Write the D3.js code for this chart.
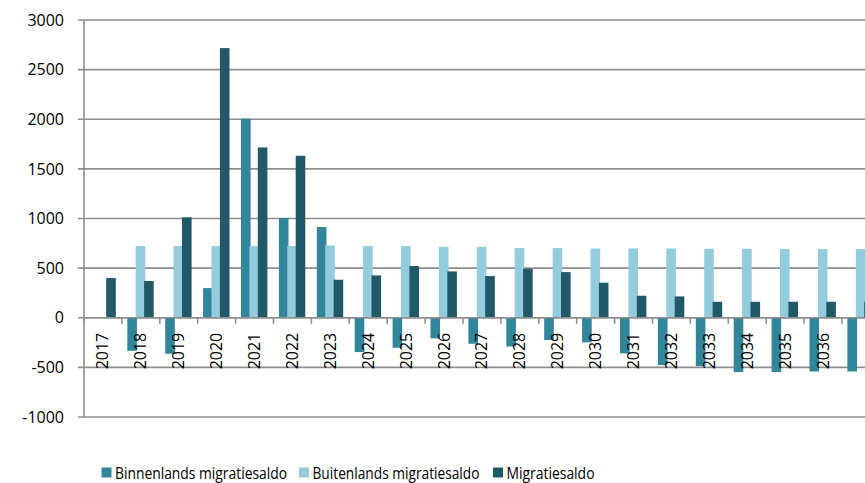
<!DOCTYPE html>
<html>
<head>
<meta charset="utf-8">
<script src="https://cdn.jsdelivr.net/npm/d3@7"></script>
<style>
  body { margin: 0; background: #fff; }
  text { font-family: "Open Sans", "Noto Sans", sans-serif; fill: #000; }
</style>
</head>
<body>
<div id="chart"></div>
<script>
// data
var years = ["2017","2018","2019","2020","2021","2022","2023","2024","2025","2026","2027",
             "2028","2029","2030","2031","2032","2033","2034","2035","2036","2037"];
var binnenlands = [0, -333, -363, 299, 2005, 1005, 914, -346, -302, -208, -262,
                   -289, -225, -248, -359, -477, -487, -547, -547, -541, -541];
var buitenlands = [0, 722, 722, 722, 722, 722, 729, 722, 722, 715, 715,
                   702, 702, 698, 698, 698, 695, 695, 692, 692, 692];
var migratiesaldo = [400, 370, 1012, 2717, 1716, 1632, 383, 427, 521, 467, 420,
                     494, 460, 353, 222, 215, 161, 161, 161, 161, 161];
var yTicks = [-1000, -500, 0, 500, 1000, 1500, 2000, 2500, 3000];
var seriesNames = ["Binnenlands migratiesaldo", "Buitenlands migratiesaldo", "Migratiesaldo"];
var colors = ["#31869b", "#93cddd", "#215968"];

var width = 865, height = 483;
var left = 84, catW = 37.9;

var svg = d3.select("#chart").append("svg")
    .attr("width", width)
    .attr("height", height);

var x = d3.scaleBand()
    .domain(years)
    .range([left, left + years.length * catW])
    .padding(0);

var y = d3.scaleLinear()
    .domain([-1000, 3000])
    .range([417, 20]);

// gridlines
svg.append("g")
    .selectAll("line")
    .data(yTicks)
    .enter()
    .append("line")
    .attr("x1", left - 6)
    .attr("x2", width)
    .attr("y1", d => y(d))
    .attr("y2", d => y(d))
    .style("stroke", "#8e8e8e")
    .style("stroke-width", 1.6);

// y axis (plain hyphen for negatives, no thousands separator)
var yAxis = svg.append("g")
    .attr("transform", "translate(" + left + ",0)")
    .call(d3.axisLeft(y).tickValues(yTicks).tickFormat(d => String(d)).tickSize(0).tickPadding(20));
yAxis.select(".domain").remove();
yAxis.selectAll("text").style("font-size", "16px").attr("fill", "#000");

svg.append("line")
    .attr("x1", left).attr("x2", left)
    .attr("y1", y(3000)).attr("y2", y(-1000))
    .style("stroke", "#8e8e8e")
    .style("stroke-width", 1.6);

// bars
var series = [binnenlands, buitenlands, migratiesaldo];
var barW = 9.6, barStep = 8.4, barOff = 5.4;

series.forEach(function (vals, i) {
    svg.append("g")
        .selectAll("rect")
        .data(years.map((yr, j) => ({ year: yr, value: vals[j] })))
        .enter()
        .append("rect")
        .attr("x", d => x(d.year) + barOff + i * barStep)
        .attr("width", barW)
        .attr("y", d => y(Math.max(0, d.value)))
        .attr("height", d => Math.abs(y(d.value) - y(0)))
        .style("fill", colors[i]);
});

// x axis line at zero, ticks at category borders
svg.append("line")
    .attr("x1", left).attr("x2", width)
    .attr("y1", y(0)).attr("y2", y(0))
    .style("stroke", "#8e8e8e")
    .style("stroke-width", 1.6);

svg.append("g")
    .selectAll("line")
    .data(years)
    .enter()
    .append("line")
    .attr("x1", d => x(d)).attr("x2", d => x(d))
    .attr("y1", y(0)).attr("y2", y(0) + 6)
    .style("stroke", "#8e8e8e")
    .style("stroke-width", 1.6);

// year labels (the last one falls outside the picture, as in the original)
svg.append("g")
    .selectAll("text")
    .data(years.filter(d => x(d) + x.bandwidth() / 2 + 8 < width))
    .enter()
    .append("text")
    .attr("transform", d => "translate(" + (x(d) + x.bandwidth() / 2 + 5.5) + "," + (y(0) + 15) + ") rotate(-90)")
    .attr("text-anchor", "end")
    .style("font-size", "16px")
    .text(d => d);

// legend
var legendX = [101.5, 299, 493];
var legendW = [172, 167, 88];
var legend = svg.append("g");
seriesNames.forEach(function (name, i) {
    legend.append("rect")
        .attr("x", legendX[i])
        .attr("y", 467.5)
        .attr("width", 10)
        .attr("height", 10)
        .style("fill", colors[i]);
    legend.append("text")
        .attr("x", legendX[i] + 13.5)
        .attr("y", 478.5)
        .attr("textLength", legendW[i])
        .attr("lengthAdjust", "spacingAndGlyphs")
        .style("font-size", "16px")
        .text(name);
});
</script>
</body>
</html>
